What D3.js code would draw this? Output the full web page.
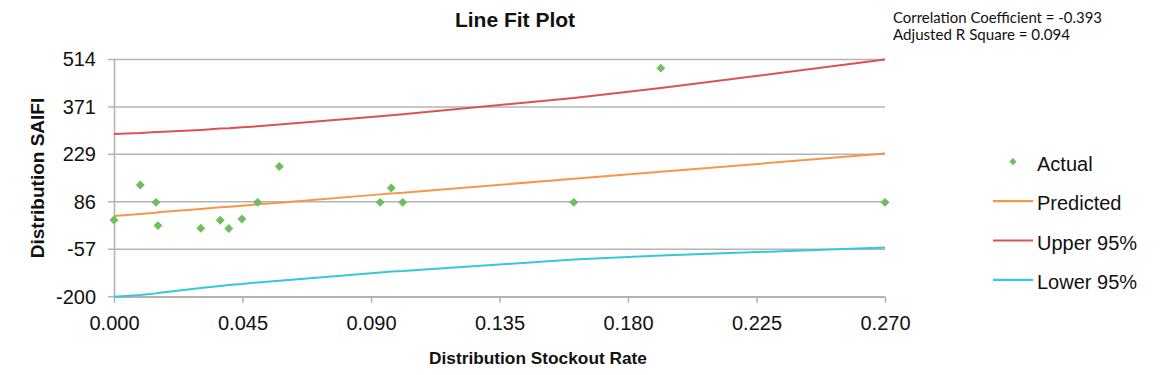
<!DOCTYPE html>
<html>
<head>
<meta charset="utf-8">
<script src="https://cdn.jsdelivr.net/npm/d3@7"></script>
<style>
  body { margin: 0; background: #fff; }
  text { font-family: "Liberation Sans", Arial, sans-serif; fill: #111; }
</style>
</head>
<body>
<svg></svg>
<script>
var w = 1175;
var h = 375;

// Distribution Stockout Rate (x) and Distribution SAIFI (y)
var stockout  = [0.000, 0.0092, 0.0147, 0.0154, 0.0304, 0.0372, 0.0402, 0.0448, 0.0503, 0.0579, 0.0932, 0.0971, 0.1011, 0.1610, 0.1915, 0.2700];
var actual    = [31, 136, 84, 14, 6, 30, 5, 34, 84, 192, 84, 127, 84, 84, 488, 84];
var predicted = [43, 49, 53, 54, 64, 69, 71, 74, 78, 83, 108, 111, 113, 155, 176, 231];
var upper95   = [290, 293, 296, 296, 302, 306, 307, 310, 313, 318, 343, 346, 349, 398, 428, 514];
var lower95   = [-200, -195, -190, -189, -174, -168, -165, -162, -157, -152, -127, -124, -123, -88, -76, -52];

var xTicks = [0, 0.045, 0.09, 0.135, 0.18, 0.225, 0.27];
var yTicks = [-200, -57, 86, 229, 371, 514];

var seriesNames = ["Actual", "Predicted", "Upper 95%", "Lower 95%"];
var seriesColors = ["#6cbf5c", "#f7964a", "#db5350", "#35c8d9"];

var svg = d3.select("svg")
            .attr("width", w)
            .attr("height", h);

var xScale = d3.scaleLinear()
                .domain([0, 0.27])
                .range([114, 885]);

var yScale = d3.scaleLinear()
                .domain([-200, 514])
                .range([296.7, 59.5]);

// gridlines (with the little outside tick on the left)
svg.append("g")
   .selectAll("line")
   .data(yTicks)
   .join("line")
     .attr("x1", 108)
     .attr("x2", xScale(0.27))
     .attr("y1", function(d){ return yScale(d); })
     .attr("y2", function(d){ return yScale(d); })
     .attr("stroke", "#b4b4b4")
     .attr("stroke-width", 1.6);

// y axis
var yAxis = d3.axisLeft(yScale)
              .tickValues(yTicks)
              .tickSize(0)
              .tickPadding(18)
              .tickFormat(function(d){ return String(d); });
var gy = svg.append("g")
   .attr("transform", "translate(114,0)")
   .call(yAxis);
gy.select(".domain").attr("stroke", "#b4b4b4").attr("stroke-width", 1.6);
gy.selectAll("text")
  .style("font-size", "20px")
  .attr("fill", "#111");

// x axis
var xAxis = d3.axisBottom(xScale)
              .tickValues(xTicks)
              .tickSize(6)
              .tickSizeOuter(0)
              .tickPadding(13)
              .tickFormat(d3.format(".3f"));
var gx = svg.append("g")
   .attr("transform", "translate(0,296.7)")
   .call(xAxis);
gx.select(".domain").attr("stroke", "#b4b4b4").attr("stroke-width", 1.6);
gx.selectAll(".tick line").attr("stroke", "#b4b4b4").attr("stroke-width", 1.6);
gx.selectAll("text")
  .style("font-size", "20px")
  .attr("fill", "#111");

// lines
var line = d3.line()
             .x(function(d){ return xScale(d[0]); })
             .y(function(d){ return yScale(d[1]); });

var lineSeries = [predicted, upper95, lower95];
lineSeries.forEach(function(vals, i){
  svg.append("path")
     .datum(d3.zip(stockout, vals))
     .attr("d", line)
     .attr("fill", "none")
     .attr("stroke", seriesColors[i + 1])
     .attr("stroke-width", 2);
});

// actual points as diamonds
var diamond = d3.symbol().type(d3.symbolSquare).size(40);
svg.append("g")
   .selectAll("path")
   .data(d3.zip(stockout, actual))
   .join("path")
     .attr("d", diamond)
     .attr("transform", function(d){
       return "translate(" + xScale(d[0]) + "," + yScale(d[1]) + ") rotate(45)";
     })
     .attr("fill", seriesColors[0]);

// title
svg.append("text")
   .attr("x", 515)
   .attr("y", 26.5)
   .attr("text-anchor", "middle")
   .style("font-size", "21px")
   .style("font-weight", "bold")
   .text("Line Fit Plot");

// axis titles
svg.append("text")
   .attr("text-anchor", "middle")
   .attr("transform", "rotate(-90)")
   .attr("x", -178)
   .attr("y", 44)
   .style("font-size", "19px")
   .style("font-weight", "bold")
   .text("Distribution SAIFI");

svg.append("text")
   .attr("text-anchor", "middle")
   .attr("x", 538)
   .attr("y", 364)
   .style("font-size", "17.3px")
   .style("font-weight", "bold")
   .text("Distribution Stockout Rate");

// stats in the corner (Calibri-like, stretched to the widths seen)
var stats = ["Correlation Coefficient = -0.393", "Adjusted R Square = 0.094"];
var statWidths = [209, 177];
svg.selectAll(".stat")
   .data(stats)
   .join("text")
     .attr("class", "stat")
     .attr("x", 893)
     .attr("y", function(d, i){ return 22.5 + i * 17.5; })
     .attr("textLength", function(d, i){ return statWidths[i]; })
     .attr("lengthAdjust", "spacingAndGlyphs")
     .style("font-family", "Lato, 'Open Sans', sans-serif")
     .style("font-size", "16px")
     .text(function(d){ return d; });

// legend
var legend = svg.append("g")
    .selectAll("g")
    .data(seriesNames)
    .join("g")
      .attr("transform", function(d, i){ return "translate(0," + (161.7 + i * 39.4) + ")"; });

legend.each(function(d, i){
  var g = d3.select(this);
  if (i === 0) {
    g.append("path")
     .attr("d", d3.symbol().type(d3.symbolSquare).size(26))
     .attr("transform", "translate(1013,0) rotate(45)")
     .attr("fill", seriesColors[0]);
  } else {
    g.append("line")
     .attr("x1", 993).attr("x2", 1033)
     .attr("y1", 0).attr("y2", 0)
     .attr("stroke", seriesColors[i])
     .attr("stroke-width", 2.2);
  }
  g.append("text")
   .attr("x", 1037)
   .attr("y", 9)
   .style("font-size", "20px")
   .text(d);
});
</script>
</body>
</html>
